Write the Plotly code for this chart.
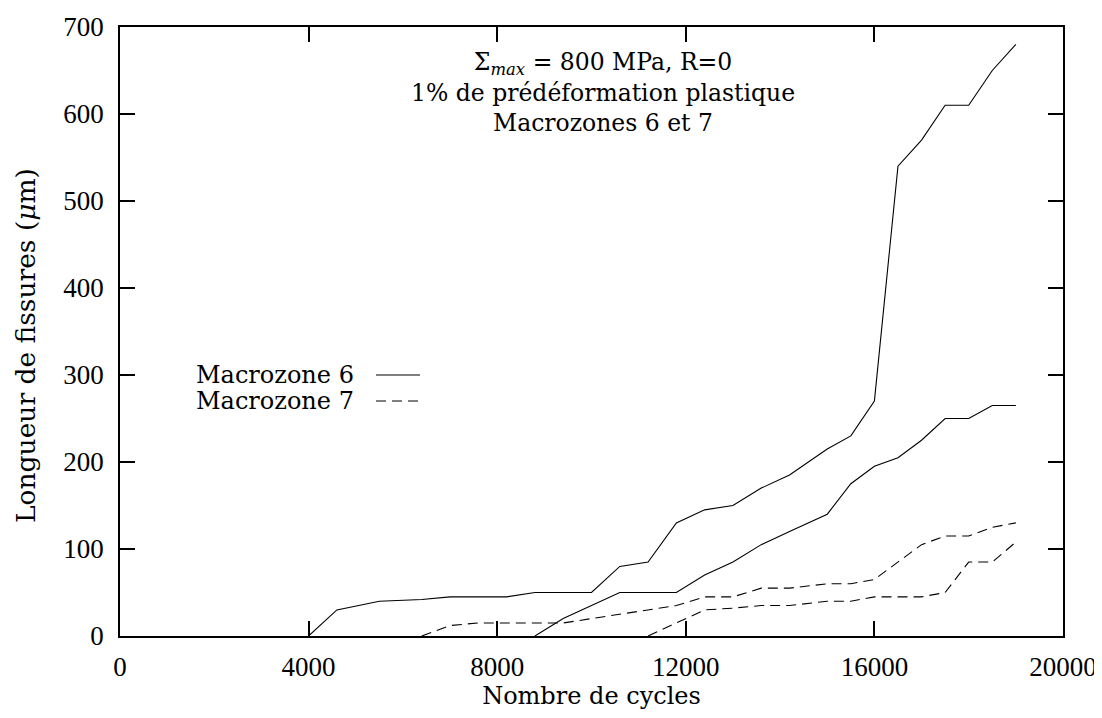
import plotly.graph_objects as go

# Macrozone 6 (solid), two cracks
m6a_x = [4000, 4600, 5500, 6400, 7000, 8200, 8800, 10000, 10600, 11200, 11800, 12400,
         13000, 13600, 14200, 15000, 15500, 16000, 16500, 17000, 17500, 18000, 18500, 19000]
m6a_y = [0, 30, 40, 42, 45, 45, 50, 50, 80, 85, 130, 145,
         150, 170, 185, 215, 230, 270, 540, 570, 610, 610, 650, 680]
m6b_x = [8800, 9400, 10000, 10600, 11800, 12400, 13000, 13600, 14200, 15000, 15500,
         16000, 16500, 17000, 17500, 18000, 18500, 19000]
m6b_y = [0, 20, 35, 50, 50, 70, 85, 105, 120, 140, 175,
         195, 205, 225, 250, 250, 265, 265]
# Macrozone 7 (dashed), two cracks
m7a_x = [6400, 7000, 7600, 8200, 8800, 9400, 10000, 10600, 11200, 11800, 12400, 13000,
         13600, 14200, 15000, 15500, 16000, 16500, 17000, 17500, 18000, 18500, 19000]
m7a_y = [0, 12, 15, 15, 15, 15, 20, 25, 30, 35, 45, 45,
         55, 55, 60, 60, 65, 85, 105, 115, 115, 125, 130]
m7b_x = [11200, 12400, 13000, 13600, 14200, 15000, 15500, 16000, 16500, 17000, 17500,
         18000, 18500, 19000]
m7b_y = [0, 30, 32, 35, 35, 40, 40, 45, 45, 45, 50,
         85, 85, 108]

x_ticks = [0, 4000, 8000, 12000, 16000, 20000]
y_ticks = [0, 100, 200, 300, 400, 500, 600, 700]

TEXT_FONT = "DejaVu Serif"
TICK_FONT = "Liberation Serif"
DASH = "10px,6px"

# plot area in page pixels (page body has an 8px margin)
PL, PR, PT, PB = 120, 1063, 27, 636
W, H = 1094, 710


def px_x(p):
    return (p - PL) / (PR - PL)


def px_y(p):
    return (PB - p) / (PB - PT)


fig = go.Figure()
for xs, ys, dash in [(m6a_x, m6a_y, "solid"), (m6b_x, m6b_y, "solid"),
                     (m7a_x, m7a_y, DASH), (m7b_x, m7b_y, DASH)]:
    fig.add_trace(go.Scatter(x=xs, y=ys, mode="lines",
                             line=dict(color="black", width=1.1, dash=dash),
                             showlegend=False, hoverinfo="skip"))

axis_common = dict(showgrid=False, zeroline=False, showline=True, linecolor="black",
                   linewidth=1.6, mirror="allticks", ticks="inside", ticklen=15,
                   tickwidth=1.6, tickcolor="black",
                   tickfont=dict(family=TICK_FONT, size=27, color="black"))

fig.update_xaxes(range=[0, 20000], tickvals=x_ticks, ticktext=[str(v) for v in x_ticks],
                 title=dict(text="Nombre de cycles",
                            font=dict(family=TEXT_FONT, size=24, color="black"),
                            standoff=6),
                 ticklabelstandoff=6, **axis_common)
fig.update_yaxes(range=[0, 700], tickvals=y_ticks, ticktext=[str(v) for v in y_ticks],
                 ticklabelstandoff=9, **axis_common)

# y axis title as rotated annotation (gnuplot places it slightly below centre)
fig.add_annotation(x=px_x(25), y=px_y(346), xref="paper", yref="paper",
                   text="Longueur de fissures (<i>μ</i>m)", textangle=-90, showarrow=False,
                   xanchor="center", yanchor="middle",
                   font=dict(family=TEXT_FONT, size=26.5, color="black"))

# Title block (one centred multi-line label)
title_lines = ["Σ<sub><i>max</i></sub> = 800 MPa, R=0",
               "1% de prédéformation plastique",
               "Macrozones 6 et 7"]
fig.add_annotation(x=px_x(603), y=px_y(93), xref="paper", yref="paper",
                   text="<br>".join(title_lines), align="center",
                   showarrow=False, xanchor="center", yanchor="middle",
                   font=dict(family=TEXT_FONT, size=23.5, color="black"))

# Legend (gnuplot style: text then sample)
legend_items = [("Macrozone 6", "solid", 375), ("Macrozone 7", DASH, 401)]
for name, dash, py in legend_items:
    yp = px_y(py)
    fig.add_annotation(x=px_x(356), y=yp, xref="paper", yref="paper", text=name,
                       showarrow=False, xanchor="right", yanchor="middle",
                       font=dict(family=TEXT_FONT, size=24, color="black"))
    fig.add_shape(type="line", xref="paper", yref="paper",
                  x0=px_x(376), x1=px_x(420), y0=yp, y1=yp,
                  line=dict(color="black", width=1.1, dash=dash))

fig.update_layout(width=W, height=H, plot_bgcolor="white", paper_bgcolor="white",
                  margin=dict(l=PL - 8, r=W - (PR - 8), t=PT - 8, b=H - (PB - 8),
                              autoexpand=False),
                  font=dict(family=TEXT_FONT, color="black"))

fig.write_html("out.html")
